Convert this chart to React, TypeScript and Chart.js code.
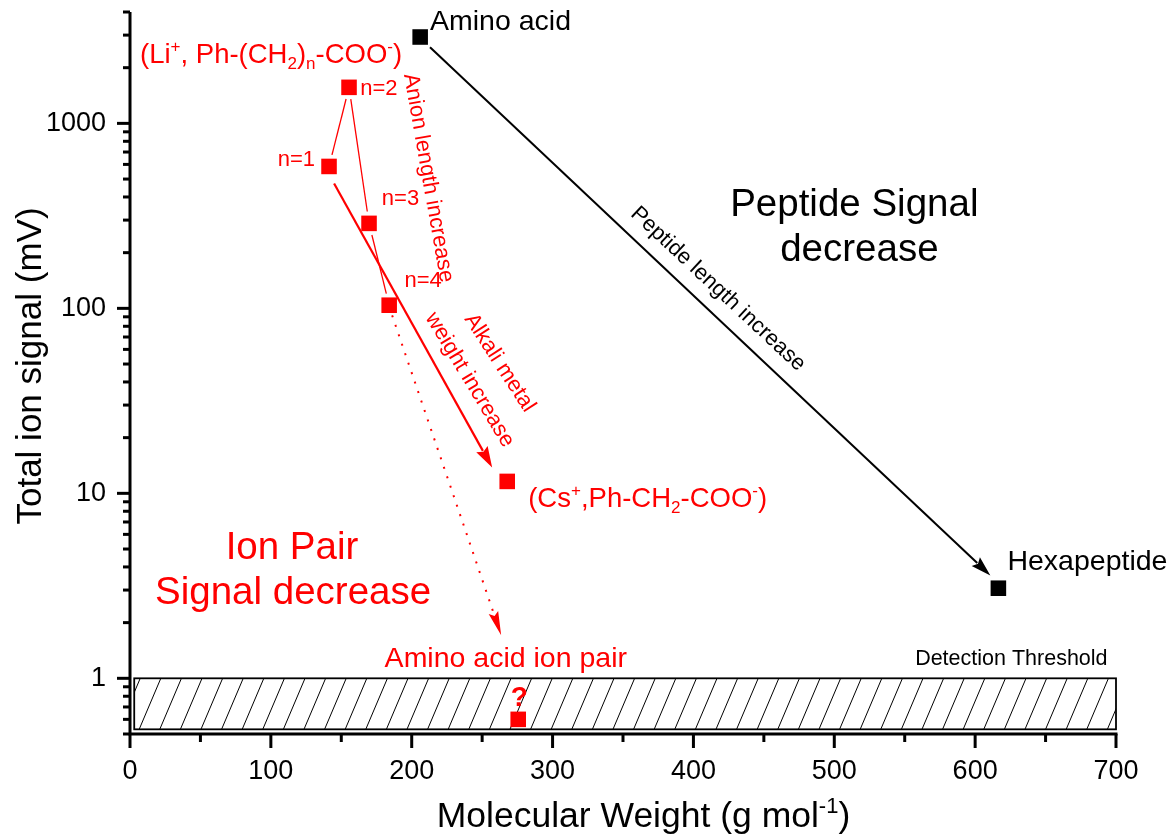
import React, { useEffect, useRef } from "react";
import { Chart, registerables } from "chart.js";

Chart.register(...registerables);

const FONT = '"Liberation Sans", Arial, Helvetica, sans-serif';
const RED = "#ff0000";
const BLACK = "#000000";

// ---- data ----
const peptideMW = [206, 616.5]; // amino acid, hexapeptide
const peptideSignal = [2930, 3.07];
const anionChainN = [1, 2, 3, 4];
const anionChainMW = [141.3, 155.5, 169.7, 184];
const anionChainSignal = [585, 1566, 288, 104];
const csPairMW = [267.8];
const csPairSignal = [11.6];
const aminoIonPairMW = [275.6];
const aminoIonPairSignal = [0.6];

const xTickValues = [0, 100, 200, 300, 400, 500, 600, 700];
const xMinorTickValues = [50, 150, 250, 350, 450, 550, 650];
const yTickValues = [1, 10, 100, 1000];
const yMinorTickValues = [
  0.5, 0.6, 0.7, 0.8, 0.9, 2, 3, 4, 5, 6, 7, 8, 9, 20, 30, 40, 50, 60, 70, 80, 90,
  200, 300, 400, 500, 600, 700, 800, 900, 2000, 3000, 4000,
];
const xRange = [0, 700];
const yRange = [0.5, 4000];

// detection threshold band (data units)
const thresholdX = [3, 700];
const thresholdY = [0.53, 1];

// arrows (data units): [x0, y0, x1, y1]
const peptideArrow = [213, 2578, 610.8, 3.6];
const alkaliArrow = [144.9, 473, 257.1, 13.8];
const ionPairArrow = [186.1, 91.6, 263.5, 1.71];

type Seg = [string, "n" | "sup" | "sub"];
type Note = {
  segs: Seg[];
  x: number;
  y: number;
  align: "left" | "center" | "right";
  color: string;
  size: number;
  rot?: number;
  bold?: boolean;
};

const notes: Note[] = [
  { segs: [["Amino acid", "n"]], x: 213, y: 3654, align: "left", color: BLACK, size: 28.5 },
  {
    segs: [
      ["(Li", "n"], ["+", "sup"], [", Ph-(CH", "n"], ["2", "sub"], [")", "n"], ["n", "sub"],
      ["-COO", "n"], ["-", "sup"], [")", "n"],
    ],
    x: 7.1, y: 2390, align: "left", color: RED, size: 27.5,
  },
  { segs: [["n=2", "n"]], x: 163.4, y: 1564, align: "left", color: RED, size: 22 },
  { segs: [["n=1", "n"]], x: 131.4, y: 653, align: "right", color: RED, size: 22 },
  { segs: [["n=3", "n"]], x: 178.8, y: 399, align: "left", color: RED, size: 22 },
  { segs: [["n=4", "n"]], x: 194.9, y: 144.6, align: "left", color: RED, size: 22 },
  { segs: [["Anion length increase", "n"]], x: 213.1, y: 509, align: "center", color: RED, size: 22, rot: 80 },
  { segs: [["Alkali metal", "n"]], x: 263.5, y: 51.4, align: "center", color: RED, size: 22, rot: 57 },
  { segs: [["weight increase", "n"]], x: 242.2, y: 41.6, align: "center", color: RED, size: 22, rot: 59 },
  { segs: [["Peptide length increase", "n"]], x: 418.3, y: 129.4, align: "center", color: BLACK, size: 22, rot: 43 },
  { segs: [["Peptide Signal", "n"]], x: 514.2, y: 373, align: "center", color: BLACK, size: 38.5 },
  { segs: [["decrease", "n"]], x: 517.8, y: 213, align: "center", color: BLACK, size: 38.5 },
  { segs: [["Ion Pair", "n"]], x: 115, y: 5.25, align: "center", color: RED, size: 38.5 },
  { segs: [["Signal decrease", "n"]], x: 115.8, y: 2.99, align: "center", color: RED, size: 38.5 },
  {
    segs: [["(Cs", "n"], ["+", "sup"], [",Ph-CH", "n"], ["2", "sub"], ["-COO", "n"], ["-", "sup"], [")", "n"]],
    x: 282.7, y: 9.55, align: "left", color: RED, size: 27.5,
  },
  { segs: [["Amino acid ion pair", "n"]], x: 266.8, y: 1.316, align: "center", color: RED, size: 28.5 },
  { segs: [["?", "n"]], x: 276.3, y: 0.8, align: "center", color: RED, size: 28, bold: true },
  { segs: [["Detection Threshold", "n"]], x: 625.7, y: 1.3, align: "center", color: BLACK, size: 21.5 },
  { segs: [["Hexapeptide", "n"]], x: 622.9, y: 4.35, align: "left", color: BLACK, size: 28.5 },
];

function drawRich(
  ctx: CanvasRenderingContext2D,
  segs: Seg[],
  x: number,
  yCenter: number,
  size: number,
  align: "left" | "center" | "right",
  bold = false
) {
  const weight = bold ? "bold " : "";
  const small = size * 0.62;
  const widths = segs.map(([t, m]) => {
    ctx.font = `${weight}${m === "n" ? size : small}px ${FONT}`;
    return ctx.measureText(t).width;
  });
  const total = widths.reduce((a, b) => a + b, 0);
  let cx = align === "left" ? x : align === "center" ? x - total / 2 : x - total;
  const baseline = yCenter + size * 0.36;
  ctx.textAlign = "left";
  ctx.textBaseline = "alphabetic";
  segs.forEach(([t, m], i) => {
    ctx.font = `${weight}${m === "n" ? size : small}px ${FONT}`;
    const dy = m === "sup" ? -size * 0.4 : m === "sub" ? size * 0.22 : 0;
    ctx.fillText(t, cx, baseline + dy);
    cx += widths[i];
  });
}

function drawArrow(
  ctx: CanvasRenderingContext2D,
  x0: number, y0: number, x1: number, y1: number,
  color: string, width: number, headLen: number, headW: number, dash: number[] = []
) {
  const dx = x1 - x0, dy = y1 - y0;
  const L = Math.hypot(dx, dy);
  const ux = dx / L, uy = dy / L;
  const bx = x1 - ux * headLen, by = y1 - uy * headLen;
  ctx.save();
  ctx.strokeStyle = color;
  ctx.fillStyle = color;
  ctx.lineWidth = width;
  ctx.setLineDash(dash);
  ctx.beginPath();
  ctx.moveTo(x0, y0);
  ctx.lineTo(bx + ux * 2, by + uy * 2);
  ctx.stroke();
  ctx.setLineDash([]);
  ctx.beginPath();
  ctx.moveTo(x1, y1);
  ctx.lineTo(bx - (uy * headW) / 2, by + (ux * headW) / 2);
  ctx.lineTo(bx + ux * headLen * 0.15, by + uy * headLen * 0.15);
  ctx.lineTo(bx + (uy * headW) / 2, by - (ux * headW) / 2);
  ctx.closePath();
  ctx.fill();
  ctx.restore();
}

const overlayPlugin = {
  id: "overlay",
  beforeDatasetsDraw(chart: any) {
    const ctx: CanvasRenderingContext2D = chart.ctx;
    const xs = chart.scales.x, ys = chart.scales.y;
    // detection threshold hatched band
    const l = xs.getPixelForValue(thresholdX[0]);
    const r = xs.getPixelForValue(thresholdX[1]);
    const t = ys.getPixelForValue(thresholdY[1]);
    const b = ys.getPixelForValue(thresholdY[0]);
    ctx.save();
    ctx.beginPath();
    ctx.rect(l, t, r - l, b - t);
    ctx.clip();
    ctx.strokeStyle = BLACK;
    ctx.lineWidth = 1;
    const h = b - t;
    const run = h / Math.tan((67 * Math.PI) / 180);
    for (let x0 = l - run + 6; x0 < r + run; x0 += 20.6) {
      ctx.beginPath();
      ctx.moveTo(x0, b);
      ctx.lineTo(x0 + run, t);
      ctx.stroke();
    }
    ctx.restore();
    ctx.save();
    ctx.strokeStyle = BLACK;
    ctx.lineWidth = 1.8;
    ctx.strokeRect(l, t, r - l, b - t);
    ctx.restore();

    // anion chain connectors (n=1 -> n=2 -> n=3 -> n=4) with gaps at the markers
    ctx.save();
    ctx.strokeStyle = RED;
    ctx.lineWidth = 1.3;
    for (let i = 0; i < anionChainN.length - 1; i++) {
      const p0x = xs.getPixelForValue(anionChainMW[i]);
      const p0y = ys.getPixelForValue(anionChainSignal[i]);
      const p1x = xs.getPixelForValue(anionChainMW[i + 1]);
      const p1y = ys.getPixelForValue(anionChainSignal[i + 1]);
      const L = Math.hypot(p1x - p0x, p1y - p0y);
      const ux = (p1x - p0x) / L, uy = (p1y - p0y) / L;
      ctx.beginPath();
      ctx.moveTo(p0x + ux * 12, p0y + uy * 12);
      ctx.lineTo(p1x - ux * 12, p1y - uy * 12);
      ctx.stroke();
    }
    ctx.restore();

    const px = (a: number[]) => [
      xs.getPixelForValue(a[0]), ys.getPixelForValue(a[1]),
      xs.getPixelForValue(a[2]), ys.getPixelForValue(a[3]),
    ];
    const [a0, a1, a2, a3] = px(peptideArrow);
    drawArrow(ctx, a0, a1, a2, a3, BLACK, 2, 20, 12);
    const [b0, b1, b2, b3] = px(alkaliArrow);
    drawArrow(ctx, b0, b1, b2, b3, RED, 2.2, 21, 13);
    const [c0, c1, c2, c3] = px(ionPairArrow);
    drawArrow(ctx, c0, c1, c2, c3, RED, 2, 24, 10, [2, 8]);
  },
  afterDatasetsDraw(chart: any) {
    const ctx: CanvasRenderingContext2D = chart.ctx;
    const xs = chart.scales.x, ys = chart.scales.y;
    const area = chart.chartArea;
    ctx.save();
    ctx.strokeStyle = BLACK;
    ctx.lineCap = "butt";
    // axis lines
    ctx.lineWidth = 3;
    ctx.beginPath();
    ctx.moveTo(area.left, area.top);
    ctx.lineTo(area.left, area.bottom + 1.5);
    ctx.moveTo(area.left - 1.5, area.bottom);
    ctx.lineTo(area.right + 1.5, area.bottom);
    ctx.stroke();
    // ticks
    ctx.lineWidth = 3;
    xTickValues.forEach((v) => {
      const p = xs.getPixelForValue(v);
      ctx.beginPath();
      ctx.moveTo(p, area.bottom);
      ctx.lineTo(p, area.bottom + 14);
      ctx.stroke();
    });
    xMinorTickValues.forEach((v) => {
      const p = xs.getPixelForValue(v);
      ctx.beginPath();
      ctx.moveTo(p, area.bottom);
      ctx.lineTo(p, area.bottom + 8);
      ctx.stroke();
    });
    yTickValues.forEach((v) => {
      const p = ys.getPixelForValue(v);
      ctx.beginPath();
      ctx.moveTo(area.left, p);
      ctx.lineTo(area.left - 13, p);
      ctx.stroke();
    });
    yMinorTickValues.forEach((v) => {
      const p = ys.getPixelForValue(v);
      ctx.beginPath();
      ctx.moveTo(area.left, p);
      ctx.lineTo(area.left - 7, p);
      ctx.stroke();
    });
    ctx.restore();

    // notes
    notes.forEach((n) => {
      const x = xs.getPixelForValue(n.x);
      const y = ys.getPixelForValue(n.y);
      ctx.save();
      ctx.fillStyle = n.color;
      if (n.rot) {
        ctx.translate(x, y);
        ctx.rotate((n.rot * Math.PI) / 180);
        drawRich(ctx, n.segs, 0, 0, n.size, n.align, n.bold);
      } else {
        drawRich(ctx, n.segs, x, y, n.size, n.align, n.bold);
      }
      ctx.restore();
    });

    // axis titles
    ctx.save();
    ctx.fillStyle = BLACK;
    drawRich(
      ctx,
      [["Molecular Weight (g mol", "n"], ["-1", "sup"], [")", "n"]],
      643.5,
      area.bottom + 80,
      35.5,
      "center"
    );
    ctx.translate(28, 366);
    ctx.rotate(-Math.PI / 2);
    drawRich(ctx, [["Total ion signal (mV)", "n"]], 0, 0, 35, "center");
    ctx.restore();
  },
};

export default function App() {
  const canvasRef = useRef<HTMLCanvasElement | null>(null);

  useEffect(() => {
    const canvas = canvasRef.current;
    if (!canvas) return;
    const pts = (xs: number[], ys: number[]) => xs.map((x, i) => ({ x, y: ys[i] }));
    const squareStyle = (color: string) => ({
      showLine: false,
      pointStyle: "rect" as const,
      pointRadius: 11,
      pointHoverRadius: 11,
      backgroundColor: color,
      borderColor: color,
      pointBorderWidth: 0,
      borderWidth: 0,
      clip: false as any,
    });
    const chart = new Chart(canvas, {
      type: "scatter",
      data: {
        datasets: [
          { label: "Peptides", data: pts(peptideMW, peptideSignal), ...squareStyle(BLACK) },
          { label: "Li+ Ph-(CH2)n-COO-", data: pts(anionChainMW, anionChainSignal), ...squareStyle(RED) },
          { label: "Cs+ Ph-CH2-COO-", data: pts(csPairMW, csPairSignal), ...squareStyle(RED) },
          { label: "Amino acid ion pair", data: pts(aminoIonPairMW, aminoIonPairSignal), ...squareStyle(RED) },
        ],
      },
      options: {
        animation: false,
        responsive: false,
        maintainAspectRatio: false,
        layout: { padding: { top: 12, right: 56, left: 0, bottom: 0 } },
        plugins: { legend: { display: false }, tooltip: { enabled: false } },
        scales: {
          x: {
            type: "linear",
            min: xRange[0],
            max: xRange[1],
            afterBuildTicks: (s: any) => {
              s.ticks = xTickValues.map((v) => ({ value: v }));
            },
            afterFit: (s: any) => {
              s.height = 102;
              s.paddingLeft = 0;
              s.paddingRight = 0;
            },
            grid: { display: false, drawTicks: false },
            border: { display: false },
            ticks: {
              color: BLACK,
              font: { family: FONT, size: 27 },
              padding: 21,
              maxRotation: 0,
              autoSkip: false,
              callback: (v: any) => String(v),
            },
          },
          y: {
            type: "logarithmic",
            min: yRange[0],
            max: yRange[1],
            afterBuildTicks: (s: any) => {
              s.ticks = yTickValues.map((v) => ({ value: v }));
            },
            afterFit: (s: any) => {
              s.width = 130;
              s.paddingTop = 0;
              s.paddingBottom = 0;
            },
            grid: { display: false, drawTicks: false },
            border: { display: false },
            ticks: {
              color: BLACK,
              font: { family: FONT, size: 27 },
              padding: 24,
              autoSkip: false,
              callback: (v: any) => String(v),
            },
          },
        },
      },
      plugins: [overlayPlugin],
    });
    return () => chart.destroy();
  }, []);

  return (
    <div style={{ position: "absolute", left: 0, top: 0, width: 1172, height: 836, background: "#fff" }}>
      <canvas ref={canvasRef} width={1172} height={836} style={{ display: "block" }} />
    </div>
  );
}
